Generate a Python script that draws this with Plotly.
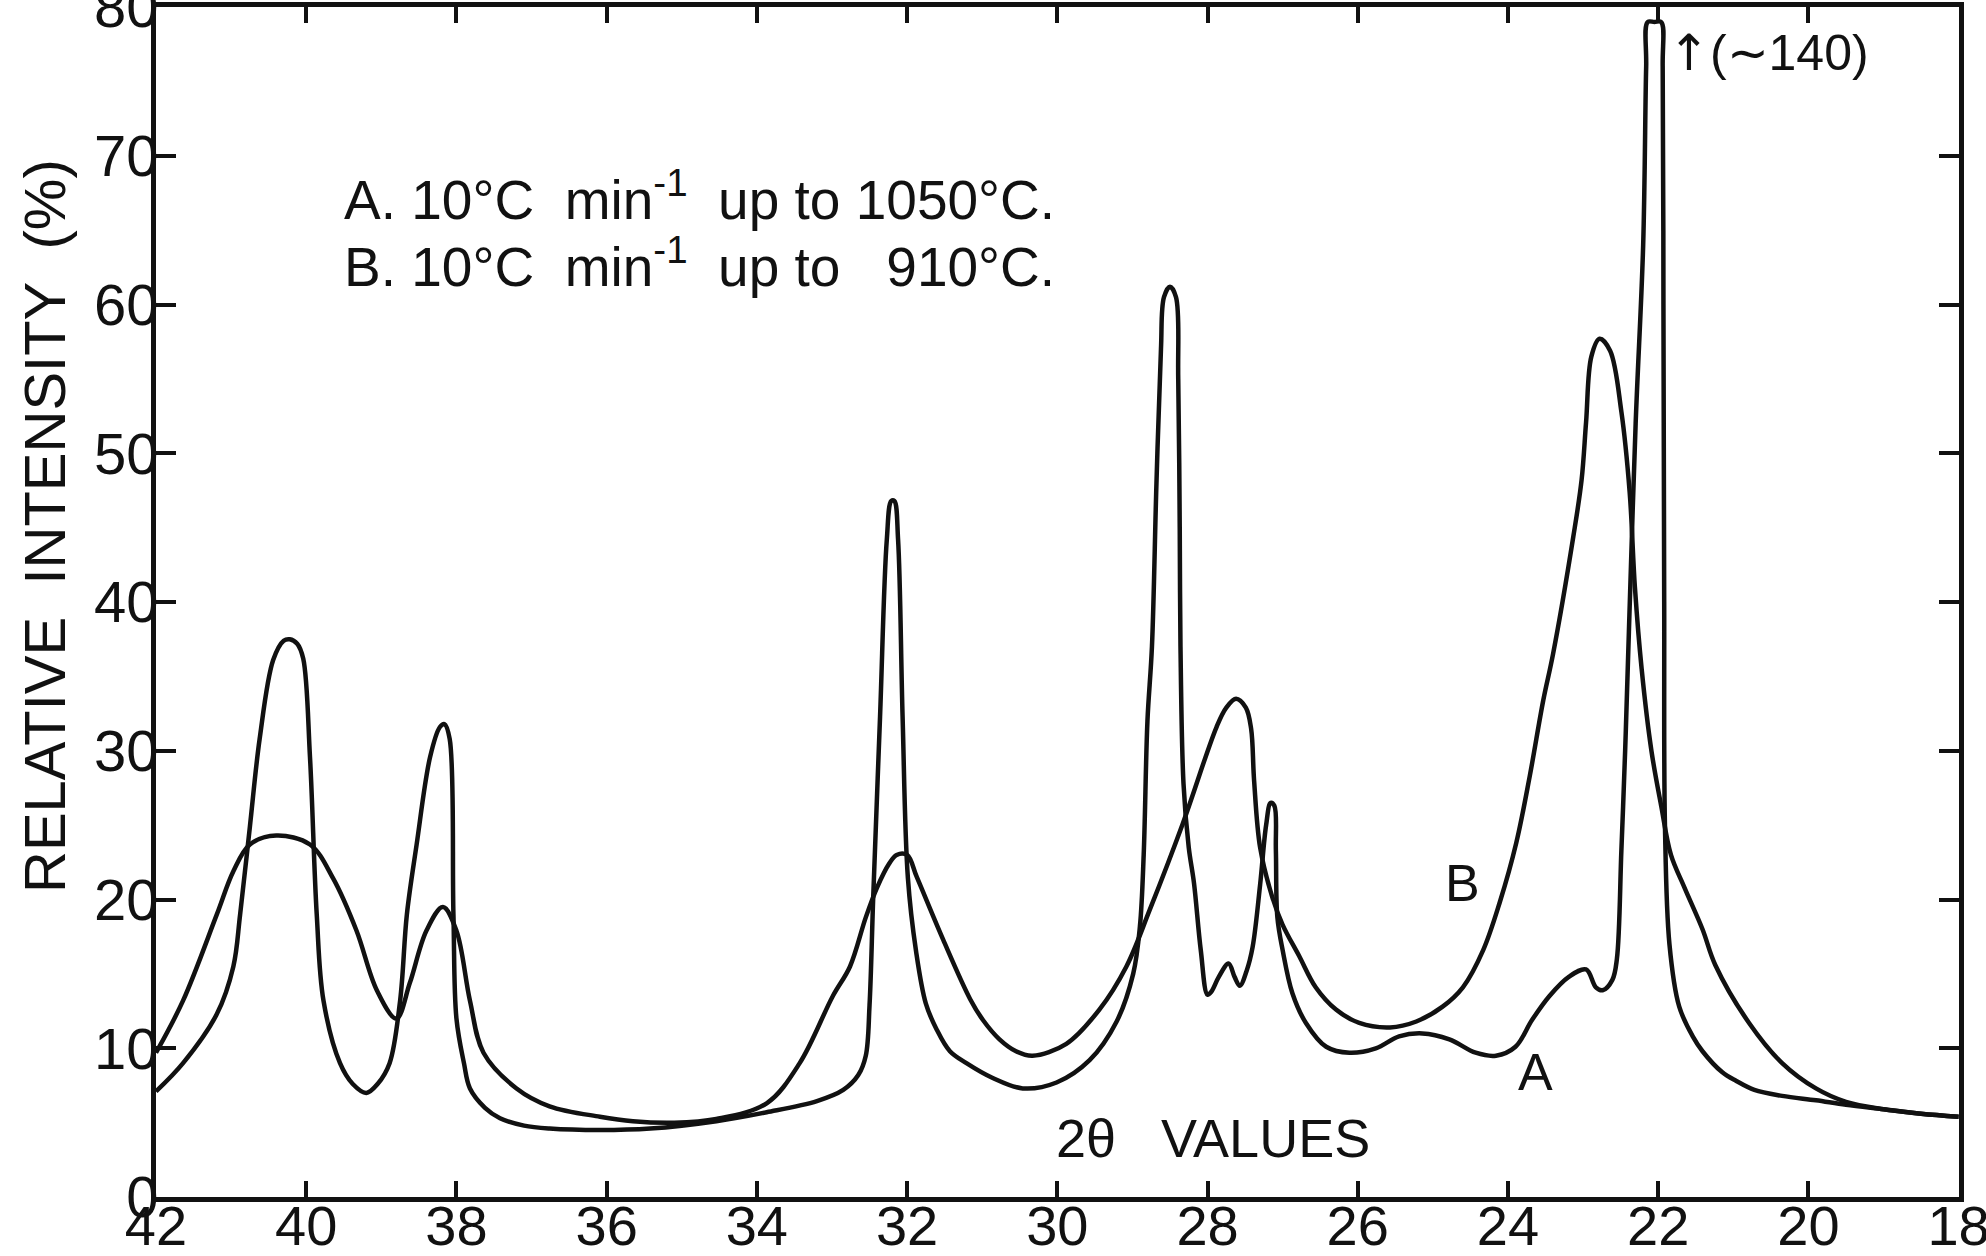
import plotly.graph_objects as go

# ---- data (2-theta in degrees, relative intensity in %) ----
a_two_theta = [42.0, 41.64, 41.19, 40.97, 40.88, 40.75, 40.62, 40.44, 40.3, 40.22, 40.12, 40.04,
               39.95, 39.86, 39.77, 39.55, 39.38, 39.2, 39.05, 38.89, 38.75, 38.66, 38.53, 38.35,
               38.22, 38.16, 38.09, 38.04, 38.0, 37.9, 37.82, 37.62, 37.42, 37.1, 36.76, 36.09,
               35.42, 34.54, 33.87, 33.2, 32.85, 32.65, 32.55, 32.5, 32.45, 32.36, 32.27, 32.21,
               32.17, 32.12, 32.06, 31.99, 31.88, 31.75, 31.61, 31.43, 31.21, 30.86, 30.46, 30.01,
               29.57, 29.21, 28.99, 28.9, 28.85, 28.8, 28.74, 28.68, 28.62, 28.58, 28.5, 28.42,
               28.39, 28.37, 28.36, 28.32, 28.25, 28.18, 28.09, 28.0, 27.95, 27.85, 27.72, 27.64,
               27.57, 27.48, 27.4, 27.3, 27.22, 27.16, 27.11, 27.09, 27.07, 27.0, 26.87, 26.69,
               26.42, 26.11, 25.76, 25.45, 25.14, 24.78, 24.43, 24.16, 23.9, 23.68, 23.45, 23.19,
               22.96, 22.83, 22.74, 22.61, 22.55, 22.49, 22.44, 22.39, 22.3, 22.2, 22.16, 22.14,
               22.05, 21.96, 21.94, 21.93, 21.92, 21.91, 21.85, 21.72, 21.54, 21.41, 21.15, 20.96,
               20.72, 20.35, 19.9, 19.5, 19.0, 18.5, 18.0]
a_intensity = [7.1, 9.0, 12.3, 15.5, 19.0, 24.9, 30.8, 36.1, 37.4, 37.5, 37.2, 36.2,
               29.6, 19.0, 13.2, 9.0, 7.6, 7.0, 7.6, 9.0, 13.2, 19.0, 23.7, 29.6,
               31.6, 31.8, 30.8, 19.0, 12.0, 9.0, 7.3, 6.0, 5.3, 4.8, 4.6, 4.5,
               4.6, 5.1, 5.7, 6.45, 7.2, 8.2, 9.5, 12.9, 20.3, 32.3, 44.2, 46.8,
               46.8, 44.2, 32.3, 21.5, 16.5, 13.0, 11.3, 9.8, 9.0, 8.0, 7.3, 7.7,
               9.2, 11.8, 15.0, 18.2, 23.0, 32.0, 37.0, 48.0, 57.0, 60.5, 61.2, 60.5,
               55.0, 45.0, 37.0, 27.8, 23.5, 21.1, 16.6, 13.6, 13.8, 14.8, 15.7, 14.8,
               14.2, 15.2, 16.8, 21.0, 25.0, 26.5, 26.3, 23.3, 18.8, 16.6, 13.7, 11.7,
               10.1, 9.7, 10.0, 10.8, 11.0, 10.6, 9.7, 9.5, 10.1, 11.9, 13.5, 14.8,
               15.3, 14.1, 13.9, 14.6, 16.0, 23.3, 30.0, 38.0, 52.0, 64.0, 76.0, 79.0,
               79.0, 79.0, 76.0, 60.0, 40.0, 25.0, 17.0, 12.8, 10.8, 9.8, 8.4, 7.8,
               7.2, 6.8, 6.5, 6.2, 5.9, 5.6, 5.4]

b_two_theta = [42.0, 41.64, 41.19, 40.97, 40.75, 40.4, 39.95, 39.64, 39.33, 39.06, 38.8, 38.62,
               38.4, 38.18, 38.0, 37.82, 37.64, 37.2, 36.76, 36.09, 35.65, 35.1, 34.54, 33.87,
               33.43, 32.99, 32.76, 32.55, 32.4, 32.24, 32.14, 32.0, 31.87, 31.52, 31.16, 30.99,
               30.77, 30.55, 30.33, 29.88, 29.44, 29.08, 28.77, 28.33, 27.88, 27.75, 27.62, 27.49,
               27.42, 27.38, 27.3, 27.14, 27.0, 26.78, 26.56, 26.29, 25.98, 25.57, 25.22, 24.87,
               24.6, 24.33, 24.11, 23.89, 23.71, 23.53, 23.4, 23.13, 23.02, 22.96, 22.89, 22.78,
               22.64, 22.49, 22.38, 22.31, 22.22, 22.09, 21.96, 21.83, 21.65, 21.41, 21.24, 20.79,
               20.35, 19.9, 19.5, 19.0, 18.5, 18.0]
b_intensity = [9.7, 13.2, 19.0, 21.9, 23.7, 24.3, 23.7, 21.4, 17.9, 13.9, 12.0, 14.4,
               17.9, 19.5, 17.9, 13.2, 9.7, 7.3, 6.1, 5.4, 5.1, 5.0, 5.25, 6.3,
               9.0, 13.5, 15.5, 18.8, 20.8, 22.4, 23.0, 23.0, 21.5, 17.3, 13.3, 11.9,
               10.6, 9.8, 9.5, 10.3, 12.6, 15.5, 19.3, 25.1, 31.6, 32.9, 33.5, 32.9,
               31.5, 28.0, 23.5, 20.2, 18.3, 16.2, 14.1, 12.6, 11.7, 11.4, 11.8, 12.8,
               14.1, 16.6, 19.8, 23.8, 28.3, 33.4, 36.5, 44.4, 48.2, 52.1, 56.5, 57.7,
               56.9, 52.8, 47.4, 41.0, 35.5, 30.0, 26.3, 23.0, 20.8, 18.0, 15.6, 11.7,
               9.0, 7.3, 6.4, 5.9, 5.6, 5.4]

x_tick_values = [42, 40, 38, 36, 34, 32, 30, 28, 26, 24, 22, 20, 18]
y_tick_values = [0, 10, 20, 30, 40, 50, 60, 70, 80]

legend_line_a = "A.\u00a010\u00b0C\u00a0\u00a0min<sup>-1</sup>\u00a0\u00a0up\u00a0to\u00a01050\u00b0C."
legend_line_b = "B.\u00a010\u00b0C\u00a0\u00a0min<sup>-1</sup>\u00a0\u00a0up\u00a0to\u00a0\u00a0\u00a0910\u00b0C."

FONT = "Liberation Sans, Arial, sans-serif"
INK = "#111111"

fig = go.Figure()
fig.add_trace(go.Scatter(x=a_two_theta, y=a_intensity, mode="lines", name="A",
                         line=dict(color=INK, width=4.5, shape="spline", smoothing=1.0)))
fig.add_trace(go.Scatter(x=b_two_theta, y=b_intensity, mode="lines", name="B",
                         line=dict(color=INK, width=4.5, shape="spline", smoothing=1.0)))

fig.update_layout(
    width=1986, height=1256, autosize=False,
    margin=dict(l=156, r=27, t=7, b=59, autoexpand=False),
    paper_bgcolor="white", plot_bgcolor="white",
    showlegend=False,
    font=dict(family=FONT, color=INK, size=56),
)
fig.update_xaxes(range=[42.0, 17.995], tickvals=x_tick_values, ticktext=[str(v) for v in x_tick_values],
                 automargin=False,
                 showgrid=False, zeroline=False, showline=True, linecolor=INK, linewidth=5,
                 mirror="ticks", ticks="inside", ticklen=16, tickwidth=4, tickcolor=INK,
                 ticklabeloverflow="allow", ticklabelstandoff=-24,
                 tickfont=dict(size=56, family=FONT, color=INK))
fig.update_yaxes(range=[0, 80.01], tickvals=y_tick_values, ticktext=[str(v) for v in y_tick_values],
                 automargin=False,
                 showgrid=False, zeroline=False, showline=True, linecolor=INK, linewidth=5,
                 mirror="ticks", ticks="inside", ticklen=20, tickwidth=4, tickcolor=INK,
                 ticklabeloverflow="allow", ticklabelstandoff=-19,
                 tickfont=dict(size=58, family=FONT, color=INK))

ann = []
ann.append(dict(x=39.52, y=67.3, xref="x", yref="y", text=legend_line_a, showarrow=False,
                xanchor="left", yanchor="middle", font=dict(size=55, family=FONT, color=INK)))
ann.append(dict(x=39.52, y=62.8, xref="x", yref="y", text=legend_line_b, showarrow=False,
                xanchor="left", yanchor="middle", font=dict(size=55, family=FONT, color=INK)))
ann.append(dict(x=27.93, y=4.0, xref="x", yref="y", text="2\u03b8\u00a0\u00a0\u00a0VALUES", showarrow=False,
                xanchor="center", yanchor="middle", font=dict(size=54, family=FONT, color=INK)))
ann.append(dict(x=24.6, y=21.1, xref="x", yref="y", text="B", showarrow=False,
                xanchor="center", yanchor="middle", font=dict(size=52, family=FONT, color=INK)))
ann.append(dict(x=23.63, y=8.4, xref="x", yref="y", text="A", showarrow=False,
                xanchor="center", yanchor="middle", font=dict(size=52, family=FONT, color=INK)))
ann.append(dict(x=21.9, y=76.9, xref="x", yref="y",
                text="<span style='font-family:DejaVu Sans'>\u2191</span>(\u223c140)", showarrow=False,
                xanchor="left", yanchor="middle", font=dict(size=50, family=FONT, color=INK)))
ann.append(dict(x=-0.0615, y=0.564, xref="paper", yref="paper",
                text="RELATIVE\u00a0\u00a0INTENSITY\u00a0\u00a0(%)",
                showarrow=False, textangle=-90, xanchor="center", yanchor="middle",
                font=dict(size=58, family=FONT, color=INK)))
fig.update_layout(annotations=ann)

fig.write_html("out.html")
